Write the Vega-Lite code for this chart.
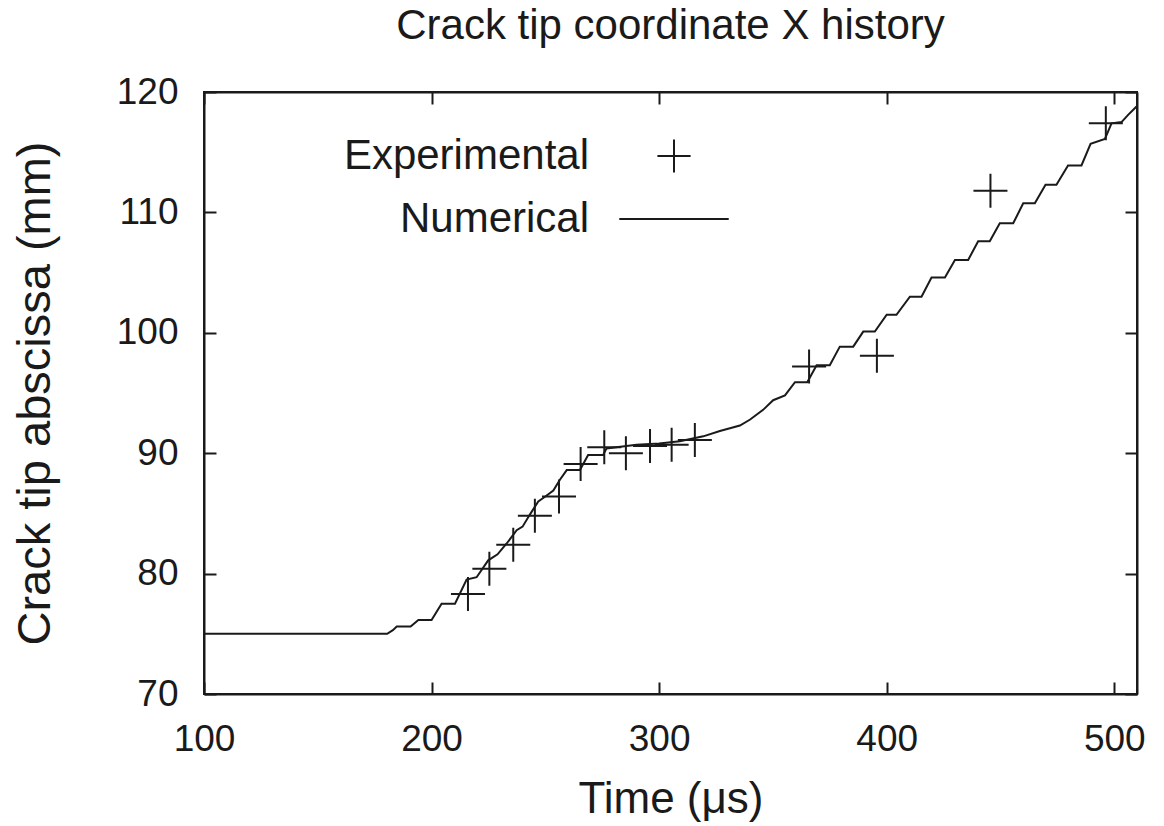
{
  "$schema": "https://vega.github.io/schema/vega-lite/v6.json",
  "width": 933,
  "height": 602,
  "autosize": "none",
  "padding": {"left": 204, "top": 92, "right": 27, "bottom": 132},
  "background": "white",
  "config": {
    "view": {"stroke": "#1a1a1a", "strokeWidth": 2},
    "font": "Liberation Sans",
    "axis": {
      "grid": false,
      "domainColor": "#1a1a1a",
      "domainWidth": 2,
      "tickColor": "#1a1a1a",
      "tickWidth": 2,
      "tickSize": -12,
      "labelColor": "#1a1a1a",
      "titleColor": "#1a1a1a",
      "labelFont": "Liberation Sans",
      "titleFont": "Liberation Sans",
      "labelFontSize": 37,
      "titleFontWeight": "normal",
      "labelFlush": false,
      "labelOverlap": false
    }
  },
  "title": {
    "text": "Crack tip coordinate X history",
    "fontSize": 42,
    "fontWeight": "normal",
    "font": "Liberation Sans",
    "color": "#1a1a1a",
    "anchor": "middle",
    "baseline": "bottom",
    "offset": 0,
    "dy": 17
  },
  "datasets": {
    "numerical": [
      {"t": 100, "x": 75.0},
      {"t": 180.5, "x": 75.0},
      {"t": 183, "x": 75.3},
      {"t": 184.7, "x": 75.6},
      {"t": 190.8, "x": 75.6},
      {"t": 194.2, "x": 76.15},
      {"t": 200, "x": 76.15},
      {"t": 204.4, "x": 77.5},
      {"t": 210.3, "x": 77.5},
      {"t": 215.4, "x": 79.5},
      {"t": 219.8, "x": 79.7},
      {"t": 224.9, "x": 81.1},
      {"t": 229, "x": 81.6},
      {"t": 233, "x": 82.5},
      {"t": 237.4, "x": 83.6},
      {"t": 240, "x": 83.9},
      {"t": 243.2, "x": 84.9},
      {"t": 246.9, "x": 86.0},
      {"t": 250, "x": 86.4},
      {"t": 253.5, "x": 86.9},
      {"t": 256.4, "x": 87.8},
      {"t": 259.4, "x": 88.6},
      {"t": 265.2, "x": 88.6},
      {"t": 268.8, "x": 89.85},
      {"t": 275.4, "x": 89.85},
      {"t": 276.9, "x": 90.4},
      {"t": 290.1, "x": 90.7},
      {"t": 300, "x": 90.8},
      {"t": 309.1, "x": 91.0},
      {"t": 319.4, "x": 91.4},
      {"t": 326.7, "x": 91.85},
      {"t": 335.5, "x": 92.3},
      {"t": 340, "x": 92.8},
      {"t": 345.7, "x": 93.6},
      {"t": 350.1, "x": 94.4},
      {"t": 355.3, "x": 94.8},
      {"t": 359.7, "x": 95.9},
      {"t": 365.1, "x": 95.9},
      {"t": 369.2, "x": 97.3},
      {"t": 375.0, "x": 97.3},
      {"t": 379.4, "x": 98.85},
      {"t": 385.3, "x": 98.85},
      {"t": 389.7, "x": 100.1},
      {"t": 394.8, "x": 100.1},
      {"t": 400.0, "x": 101.5},
      {"t": 404.3, "x": 101.5},
      {"t": 410.2, "x": 103.0},
      {"t": 415.3, "x": 103.0},
      {"t": 419.7, "x": 104.6},
      {"t": 425.6, "x": 104.6},
      {"t": 430.0, "x": 106.05},
      {"t": 435.8, "x": 106.05},
      {"t": 440.2, "x": 107.6},
      {"t": 445.3, "x": 107.6},
      {"t": 449.7, "x": 109.1},
      {"t": 455.6, "x": 109.1},
      {"t": 460.0, "x": 110.75},
      {"t": 465.1, "x": 110.75},
      {"t": 469.8, "x": 112.3},
      {"t": 474.6, "x": 112.3},
      {"t": 479.7, "x": 113.9},
      {"t": 485.6, "x": 113.9},
      {"t": 489.6, "x": 115.7},
      {"t": 495.9, "x": 116.1},
      {"t": 498.8, "x": 117.4},
      {"t": 503.2, "x": 117.5},
      {"t": 506.1, "x": 118.1},
      {"t": 509.8, "x": 118.8}
    ],
    "experimental": [
      {"t": 216, "x": 78.3, "series": "Experimental"},
      {"t": 225.4, "x": 80.4, "series": "Experimental"},
      {"t": 235.9, "x": 82.4, "series": "Experimental"},
      {"t": 245.4, "x": 84.8, "series": "Experimental"},
      {"t": 256.0, "x": 86.4, "series": "Experimental"},
      {"t": 265.5, "x": 89.1, "series": "Experimental"},
      {"t": 275.9, "x": 90.5, "series": "Experimental"},
      {"t": 285.4, "x": 90.0, "series": "Experimental"},
      {"t": 296.0, "x": 90.6, "series": "Experimental"},
      {"t": 305.5, "x": 90.7, "series": "Experimental"},
      {"t": 315.7, "x": 91.1, "series": "Experimental"},
      {"t": 365.9, "x": 97.2, "series": "Experimental"},
      {"t": 395.7, "x": 98.1, "series": "Experimental"},
      {"t": 445.6, "x": 111.8, "series": "Experimental"},
      {"t": 496.3, "x": 117.4, "series": "Experimental"}
    ]
  },
  "layer": [
    {
      "data": {"name": "numerical"},
      "mark": {"type": "line", "color": "#1a1a1a", "strokeWidth": 2},
      "encoding": {
        "x": {
          "field": "t",
          "type": "quantitative",
          "scale": {"domain": [100, 510], "nice": false, "zero": false},
          "axis": {
            "orient": "bottom",
            "values": [100, 200, 300, 400, 500],
            "labelPadding": 39,
            "title": "Time (μs)",
            "titleFontSize": 44,
            "titlePadding": 20
          }
        },
        "y": {
          "field": "x",
          "type": "quantitative",
          "scale": {"domain": [70, 120], "nice": false, "zero": false},
          "axis": {
            "orient": "left",
            "values": [70, 80, 90, 100, 110, 120],
            "labelPadding": 38,
            "title": "Crack tip abscissa (mm)",
            "titleFontSize": 47,
            "titlePadding": 57
          }
        }
      }
    },
    {
      "data": {"name": "experimental"},
      "mark": {"type": "point", "filled": false, "stroke": "#1a1a1a", "strokeWidth": 2, "size": 1156, "opacity": 1},
      "encoding": {
        "x": {
          "field": "t",
          "type": "quantitative",
          "axis": {"orient": "top", "values": [100, 200, 300, 400, 500], "labels": false, "title": null}
        },
        "y": {
          "field": "x",
          "type": "quantitative",
          "axis": {"orient": "right", "values": [70, 80, 90, 100, 110, 120], "labels": false, "title": null}
        },
        "shape": {
          "field": "series",
          "type": "nominal",
          "scale": {"domain": ["Experimental", "Numerical"], "range": ["M-1,0H1M0,-1V1", "M-3.3,0H3.3"]},
          "legend": {
            "orient": "none",
            "legendX": 449,
            "legendY": 43,
            "title": null,
            "padding": 0,
            "symbolOffset": 0,
            "labelFontSize": 42,
            "labelFont": "Liberation Sans",
            "labelColor": "#1a1a1a",
            "labelAlign": "right",
            "labelOffset": -106,
            "labelLimit": 0,
            "symbolSize": 1100,
            "symbolStrokeWidth": 2,
            "symbolStrokeColor": "#1a1a1a",
            "symbolFillColor": "transparent",
            "rowPadding": 21
          }
        }
      }
    }
  ],
  "resolve": {"axis": {"x": "independent", "y": "independent"}}
}
